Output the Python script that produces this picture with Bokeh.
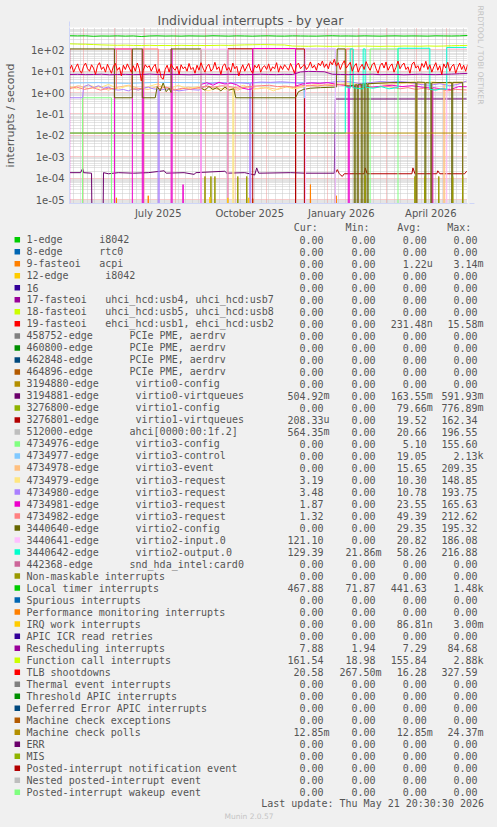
import re
import numpy as np
import pandas as pd
from bokeh.plotting import figure
from bokeh.models import (Range1d, FixedTicker, Grid, Arrow, NormalHead, LinearScale, Title,
                          CustomJSTickFormatter, DatetimeTickFormatter)
from bokeh.core.properties import value
from bokeh.embed import file_html
from bokeh.resources import INLINE

# ---------------------------------------------------------------- texts
TITLE = "Individual interrupts - by year"
Y_LABEL = "interrupts / second"
WATERMARK = "RRDTOOL / TOBI OETIKER"
LAST_UPDATE = "Last update: Thu May 21 20:30:30 2026"
FOOTER = "Munin 2.0.57"
HEADERS = ["Cur:", "Min:", "Avg:", "Max:"]

X_START = "2025-04-16 20:30:30"
X_END = "2026-05-21 20:30:30"
QUARTER_TICKS = ["2025-07-15", "2025-10-15", "2026-01-15", "2026-04-15"]
Y_DECADES = [1e-05, 1e-04, 1e-03, 1e-02, 1e-01, 1e+00, 1e+01, 1e+02]

legend_labels = [
    "1-edge      i8042",
    "8-edge      rtc0",
    "9-fasteoi   acpi",
    "12-edge      i8042",
    "16",
    "17-fasteoi   uhci_hcd:usb4, uhci_hcd:usb7",
    "18-fasteoi   uhci_hcd:usb5, uhci_hcd:usb8",
    "19-fasteoi   ehci_hcd:usb1, ehci_hcd:usb2",
    "458752-edge      PCIe PME, aerdrv",
    "460800-edge      PCIe PME, aerdrv",
    "462848-edge      PCIe PME, aerdrv",
    "464896-edge      PCIe PME, aerdrv",
    "3194880-edge      virtio0-config",
    "3194881-edge      virtio0-virtqueues",
    "3276800-edge      virtio1-config",
    "3276801-edge      virtio1-virtqueues",
    "512000-edge      ahci[0000:00:1f.2]",
    "4734976-edge      virtio3-config",
    "4734977-edge      virtio3-control",
    "4734978-edge      virtio3-event",
    "4734979-edge      virtio3-request",
    "4734980-edge      virtio3-request",
    "4734981-edge      virtio3-request",
    "4734982-edge      virtio3-request",
    "3440640-edge      virtio2-config",
    "3440641-edge      virtio2-input.0",
    "3440642-edge      virtio2-output.0",
    "442368-edge      snd_hda_intel:card0",
    "Non-maskable interrupts",
    "Local timer interrupts",
    "Spurious interrupts",
    "Performance monitoring interrupts",
    "IRQ work interrupts",
    "APIC ICR read retries",
    "Rescheduling interrupts",
    "Function call interrupts",
    "TLB shootdowns",
    "Thermal event interrupts",
    "Threshold APIC interrupts",
    "Deferred Error APIC interrupts",
    "Machine check exceptions",
    "Machine check polls",
    "ERR",
    "MIS",
    "Posted-interrupt notification event",
    "Nested posted-interrupt event",
    "Posted-interrupt wakeup event",
]

cur_vals = ["0.00", "0.00", "0.00", "0.00", "0.00", "0.00", "0.00", "0.00", "0.00", "0.00",
            "0.00", "0.00", "0.00", "504.92m", "0.00", "208.33u", "564.35m", "0.00", "0.00", "0.00",
            "3.19", "3.48", "1.87", "1.32", "0.00", "121.10", "129.39", "0.00", "0.00", "467.88",
            "0.00", "0.00", "0.00", "0.00", "7.88", "161.54", "20.58", "0.00", "0.00", "0.00",
            "0.00", "12.85m", "0.00", "0.00", "0.00", "0.00", "0.00"]
min_vals = ["0.00", "0.00", "0.00", "0.00", "0.00", "0.00", "0.00", "0.00", "0.00", "0.00",
            "0.00", "0.00", "0.00", "0.00", "0.00", "0.00", "0.00", "0.00", "0.00", "0.00",
            "0.00", "0.00", "0.00", "0.00", "0.00", "0.00", "21.86m", "0.00", "0.00", "71.87",
            "0.00", "0.00", "0.00", "0.00", "1.94", "18.98", "267.50m", "0.00", "0.00", "0.00",
            "0.00", "0.00", "0.00", "0.00", "0.00", "0.00", "0.00"]
avg_vals = ["0.00", "0.00", "1.22u", "0.00", "0.00", "0.00", "0.00", "231.48n", "0.00", "0.00",
            "0.00", "0.00", "0.00", "163.55m", "79.66m", "19.52", "20.66", "5.10", "19.05", "15.65",
            "10.30", "10.78", "23.55", "49.39", "29.35", "20.82", "58.26", "0.00", "0.00", "441.63",
            "0.00", "0.00", "86.81n", "0.00", "7.29", "155.84", "16.28", "0.00", "0.00", "0.00",
            "0.00", "12.85m", "0.00", "0.00", "0.00", "0.00", "0.00"]
max_vals = ["0.00", "0.00", "3.14m", "0.00", "0.00", "0.00", "0.00", "15.58m", "0.00", "0.00",
            "0.00", "0.00", "0.00", "591.93m", "776.89m", "162.34", "196.55", "155.60", "2.13k", "209.35",
            "148.85", "193.75", "165.63", "212.62", "195.32", "186.08", "216.88", "0.00", "0.00", "1.48k",
            "0.00", "0.00", "3.00m", "0.00", "84.68", "2.88k", "327.59", "0.00", "0.00", "0.00",
            "0.00", "24.37m", "0.00", "0.00", "0.00", "0.00", "0.00"]

# Munin default palette (cycled over the 47 fields)
PALETTE = ["#00CC00", "#0066B3", "#FF8000", "#FFCC00", "#330099", "#990099", "#CCFF00",
           "#FF0000", "#808080", "#008F00", "#00487D", "#B35A00", "#B38F00", "#6B006B",
           "#8FB300", "#B30000", "#BEBEBE", "#80FF80", "#80C9FF", "#FFC080", "#FFE680",
           "#AA80FF", "#EE00CC", "#FF8080", "#666600", "#FFBFFF", "#00FFCC", "#CC6699",
           "#999900"]

# ---------------------------------------------------------------- series
tlb_start, tlb_step = "2025-04-17", "2D"
tlb_vals = [12, 19, 9, 15, 22, 11, 8, 17, 24, 13, 10, 20, 14, 7, 18, 25, 12, 16, 9, 21,
            13, 8, 17, 23, 11, 15, 6, 19, 12, 22, 14, 9, 18, 10, 24, 13, 3.5, 11, 20, 15,
            18, 10, 16, 21, 8, 13, 5, 4.2, 12, 19, 9, 22, 14, 11, 17, 7, 20, 13, 16, 10,
            23, 12, 15, 8, 19, 11, 25, 14, 9, 17, 21, 10, 13, 26, 12, 16, 7, 18, 22, 11,
            15, 9, 24, 13, 17, 6, 12, 20, 10, 16, 23, 11, 8, 19, 14, 21, 9, 15, 18, 12,
            22, 10, 16, 13, 25, 9, 18, 12, 20, 15, 11, 23, 14, 8, 19, 24, 13, 17, 21, 12,
            16, 27, 14, 19, 11, 24, 18, 30, 15, 22, 13, 28, 20, 36, 17, 25, 12, 21, 31, 14,
            19, 26, 10, 17, 23, 9, 15, 21, 12, 28, 16, 11, 20, 25, 13, 8, 18, 24, 14, 27,
            11, 17, 22, 9, 15, 30, 13, 19, 24, 12, 16, 8, 21, 27, 14, 18, 10, 23, 15, 29,
            12, 20, 9, 16, 25, 11, 18, 7, 22, 14, 26, 10, 17, 21, 8, 15, 24, 12, 19, 10,
            20.6]

weekly_start, weekly_step = "2025-04-17", "8D"
local_timer_vals = [455, 448, 452, 430, 445, 440, 450, 438, 447, 420, 445, 452, 441, 446, 437, 449, 443,
                    440, 455, 446, 438, 450, 444, 436, 447, 452, 441, 438, 449, 445, 440, 437, 448, 455,
                    443, 446, 440, 451, 444, 437, 446, 450, 442, 448, 445, 439, 452, 447, 443, 450, 468]
func_call_vals = [190, 185, 182, 176, 170, 166, 163, 165, 161, 159, 162, 158, 160, 157, 162, 159, 161,
                  158, 160, 163, 161, 165, 170, 172, 175, 174, 170, 168, 150, 148, 146, 150, 147, 145,
                  149, 146, 148, 150, 147, 145, 148, 146, 150, 149, 147, 151, 148, 150, 155, 158, 161]
resched_vals = [7.0, 7.1, 6.9, 7.0, 7.2, 6.8, 7.0, 7.1, 6.9, 7.0, 7.3, 7.0, 6.9, 7.1, 7.0, 6.8, 7.0,
                7.2, 7.0, 6.9, 7.1, 7.0, 6.9, 7.0, 7.2, 7.0, 6.9, 7.1, 7.0, 9.2, 9.8, 9.6, 9.4, 7.2,
                7.0, 6.9, 7.1, 7.0, 7.2, 6.9, 7.0, 7.1, 6.8, 7.0, 7.2, 7.0, 6.9, 7.1, 7.3, 7.6, 7.9]

virtio0_vq = [("2025-04-16", 1.8e-4), ("2025-04-28", 1.8e-4), ("2025-04-30", 2.8e-4), ("2025-05-01", 1.8e-4),
              ("2025-05-09", 1.7e-4), ("2025-05-10", 0), ("2025-05-20", 0), ("2025-05-21", 1.8e-4),
              ("2025-05-26", 1.6e-4), ("2025-06-05", 1.8e-4), ("2025-06-20", 1.7e-4), ("2025-07-05", 1.8e-4),
              ("2025-07-21", 2.2e-4), ("2025-07-23", 1.7e-4), ("2025-08-10", 1.8e-4), ("2025-08-20", 1.5e-4),
              ("2025-08-22", 1.8e-4), ("2025-09-20", 2.1e-4), ("2025-09-22", 1.7e-4), ("2025-10-10", 1.8e-4),
              ("2025-10-20", 1.4e-4), ("2025-10-22", 3.0e-4), ("2025-10-24", 1.7e-4), ("2025-11-25", 1.8e-4),
              ("2025-12-10", 1.7e-4), ("2026-01-08", 1.7e-4), ("2026-01-09", 0.5), ("2026-05-21", 0.505)]
virtio1_vq = [("2025-04-16", 0), ("2025-09-23", 0), ("2025-09-23", 112), ("2025-10-18", 112),
              ("2025-10-18", 0), ("2025-11-30", 0), ("2025-11-30", 110), ("2025-12-09", 110),
              ("2025-12-09", 0), ("2026-01-09", 0), ("2026-01-09", 1.7e-4), ("2026-01-11", 2.5e-4),
              ("2026-01-13", 1.6e-4), ("2026-01-16", 1.2e-4), ("2026-01-18", 1.6e-4), ("2026-02-07", 1.6e-4),
              ("2026-02-08", 3.0e-4), ("2026-02-10", 1.6e-4), ("2026-03-27", 1.6e-4), ("2026-03-28", 3.0e-4),
              ("2026-03-30", 1.6e-4), ("2026-04-21", 1.6e-4), ("2026-04-22", 2.2e-4), ("2026-04-24", 1.6e-4),
              ("2026-05-19", 1.6e-4), ("2026-05-21", 2.1e-4)]
virtio3_config = [("2025-04-16", 0), ("2025-04-30", 0), ("2025-04-30", 0.57), ("2025-05-29", 0.57),
                  ("2025-05-29", 0), ("2026-02-13", 0), ("2026-02-13", 110), ("2026-03-13", 110),
                  ("2026-03-13", 0), ("2026-05-21", 0)]
virtio3_control = [("2025-04-16", 2.8), ("2025-05-16", 2.9), ("2025-06-15", 2.7), ("2025-07-15", 3.0),
                   ("2025-08-14", 2.9), ("2025-09-13", 2.8), ("2025-10-13", 2.9), ("2025-11-12", 2.8),
                   ("2025-12-08", 2.9), ("2025-12-09", 0.55), ("2025-12-10", 112), ("2026-01-09", 112),
                   ("2026-01-09", 0), ("2026-05-21", 0)]
virtio3_event = [("2025-04-16", 1.6), ("2025-04-26", 2.1), ("2025-05-06", 1.5), ("2025-05-16", 1.9),
                 ("2025-05-26", 1.3), ("2025-06-05", 1.8), ("2025-06-15", 2.2), ("2025-06-25", 1.6),
                 ("2025-07-05", 1.4), ("2025-07-15", 2.0), ("2025-07-25", 1.7), ("2025-08-04", 1.3),
                 ("2025-08-14", 1.8), ("2025-08-24", 1.5), ("2025-09-03", 2.0), ("2025-09-13", 1.4),
                 ("2025-09-23", 1.8), ("2025-10-03", 1.3), ("2025-10-13", 1.9), ("2025-10-23", 1.5),
                 ("2025-11-02", 1.7), ("2025-11-12", 1.4), ("2025-11-22", 1.9), ("2025-12-02", 1.6),
                 ("2025-12-12", 2.0), ("2025-12-22", 2.3), ("2026-01-01", 2.1), ("2026-01-11", 2.4),
                 ("2026-01-21", 2.6), ("2026-01-31", 2.3), ("2026-02-10", 2.5), ("2026-02-20", 2.7),
                 ("2026-03-02", 2.4), ("2026-03-12", 2.6), ("2026-03-22", 2.8), ("2026-03-31", 2.5),
                 ("2026-03-31", 0), ("2026-04-01", 0), ("2026-04-01", 2.6), ("2026-04-11", 2.9),
                 ("2026-04-21", 2.7), ("2026-04-28", 2.8), ("2026-04-28", 0), ("2026-04-29", 0),
                 ("2026-04-29", 2.5), ("2026-05-09", 2.8), ("2026-05-17", 2.6), ("2026-05-17", 0),
                 ("2026-05-21", 0)]
virtio3_req79 = [("2025-04-16", 2.0), ("2025-04-26", 1.4), ("2025-05-06", 2.3), ("2025-05-16", 1.6),
                 ("2025-05-26", 2.4), ("2025-06-05", 1.5), ("2025-06-15", 2.1), ("2025-06-25", 1.3),
                 ("2025-07-05", 1.9), ("2025-07-15", 2.6), ("2025-07-25", 1.4), ("2025-08-04", 2.2),
                 ("2025-08-14", 1.5), ("2025-08-24", 1.9), ("2025-09-03", 1.2), ("2025-09-13", 1.7),
                 ("2025-09-23", 1.3), ("2025-09-28", 1.5), ("2025-09-28", 0), ("2025-09-29", 0),
                 ("2025-09-29", 1.6), ("2025-10-09", 2.2), ("2025-10-19", 1.4), ("2025-10-29", 1.8),
                 ("2025-11-08", 1.2), ("2025-11-18", 2.0), ("2025-11-28", 1.5), ("2025-12-08", 1.9),
                 ("2025-12-18", 2.3), ("2025-12-28", 2.1), ("2026-01-07", 2.6), ("2026-01-17", 2.4),
                 ("2026-01-27", 2.8), ("2026-02-06", 2.5), ("2026-02-16", 2.9), ("2026-02-26", 2.7),
                 ("2026-03-08", 3.0), ("2026-03-18", 2.8), ("2026-03-28", 3.1), ("2026-04-07", 2.9),
                 ("2026-04-17", 3.2), ("2026-04-27", 2.7), ("2026-05-07", 3.0), ("2026-05-21", 3.19)]
virtio3_req80 = [("2025-04-16", 0.57), ("2025-04-30", 0.57), ("2025-05-01", 1.9), ("2025-05-06", 2.3),
                 ("2025-05-11", 1.7), ("2025-05-16", 2.1), ("2025-05-21", 1.6), ("2025-05-26", 1.8),
                 ("2025-05-31", 1.4), ("2025-06-05", 1.3), ("2025-06-10", 1.4), ("2025-06-15", 1.2),
                 ("2025-06-20", 1.5), ("2025-06-25", 1.3), ("2025-06-30", 1.6), ("2025-07-05", 1.8),
                 ("2025-07-10", 1.5), ("2025-07-15", 1.4), ("2025-07-15", 0), ("2025-07-16", 0),
                 ("2025-07-16", 1.3), ("2025-07-25", 1.5), ("2025-08-05", 1.2), ("2025-08-15", 1.4),
                 ("2025-08-25", 1.3), ("2025-09-04", 2.6), ("2025-09-14", 3.0), ("2025-09-24", 2.7),
                 ("2025-10-04", 2.9), ("2025-10-15", 2.6), ("2025-10-15", 0), ("2025-10-16", 0),
                 ("2025-10-16", 2.8), ("2025-10-26", 3.1), ("2025-11-05", 3.0), ("2025-11-15", 3.2),
                 ("2025-11-25", 3.0), ("2025-12-05", 2.7), ("2025-12-15", 2.9), ("2025-12-25", 2.8),
                 ("2026-01-04", 3.0), ("2026-01-14", 3.4), ("2026-01-24", 3.2), ("2026-02-03", 2.6),
                 ("2026-02-13", 2.9), ("2026-02-23", 3.3), ("2026-03-05", 3.1), ("2026-03-15", 3.3),
                 ("2026-03-25", 3.0), ("2026-04-04", 2.4), ("2026-04-14", 2.2), ("2026-04-24", 2.6),
                 ("2026-05-04", 2.1), ("2026-05-12", 2.4), ("2026-05-21", 3.48)]
virtio3_req81 = [("2025-04-16", 110), ("2025-04-17", 110), ("2025-04-17", 0), ("2025-06-01", 0),
                 ("2025-06-01", 110), ("2025-06-19", 110), ("2025-06-19", 0), ("2025-06-29", 0),
                 ("2025-06-29", 110), ("2025-06-30", 110), ("2025-06-30", 0), ("2025-07-28", 0),
                 ("2025-07-28", 110), ("2025-07-29", 110), ("2025-07-29", 0), ("2025-08-08", 0),
                 ("2025-08-09", 5e-5), ("2025-08-10", 0), ("2025-08-27", 0), ("2025-08-27", 2.4),
                 ("2025-09-02", 2.9), ("2025-09-08", 2.2), ("2025-09-14", 3.0), ("2025-09-20", 2.5),
                 ("2025-09-26", 2.8), ("2025-10-02", 2.3), ("2025-10-08", 1.6), ("2025-10-14", 1.4),
                 ("2025-10-18", 1.5), ("2025-10-18", 115), ("2025-11-30", 115), ("2025-11-30", 2.0),
                 ("2025-12-08", 2.6), ("2025-12-16", 2.8), ("2025-12-24", 2.7), ("2026-01-01", 2.9),
                 ("2026-01-09", 2.5), ("2026-01-17", 2.2), ("2026-01-22", 2.0), ("2026-01-22", 0),
                 ("2026-01-23", 0), ("2026-01-23", 1.9), ("2026-02-05", 2.1), ("2026-02-15", 1.8),
                 ("2026-02-25", 2.0), ("2026-03-07", 2.2), ("2026-03-17", 1.9), ("2026-03-27", 2.1),
                 ("2026-04-06", 1.8), ("2026-04-16", 1.6), ("2026-04-16", 0), ("2026-04-17", 0),
                 ("2026-04-17", 1.7), ("2026-04-25", 1.5), ("2026-05-05", 1.4), ("2026-05-13", 1.9),
                 ("2026-05-21", 1.87)]
virtio3_req82 = [("2025-04-16", 1.5), ("2025-04-24", 1.8), ("2025-05-02", 1.4), ("2025-05-10", 1.7),
                 ("2025-05-18", 1.3), ("2025-05-26", 1.6), ("2025-06-03", 1.5), ("2025-06-03", 110),
                 ("2025-06-18", 110), ("2025-06-18", 1.4), ("2025-06-30", 1.6), ("2025-06-30", 110),
                 ("2025-07-15", 110), ("2025-07-15", 1.5), ("2025-07-23", 1.8), ("2025-07-31", 1.3),
                 ("2025-08-08", 1.6), ("2025-08-16", 1.4), ("2025-08-24", 1.7), ("2025-09-01", 2.0),
                 ("2025-09-09", 1.8), ("2025-09-17", 2.1), ("2025-09-25", 1.9), ("2025-10-03", 1.6),
                 ("2025-10-11", 1.8), ("2025-10-19", 2.0), ("2025-10-27", 2.1), ("2025-11-04", 2.2),
                 ("2025-11-12", 1.9), ("2025-11-20", 2.0), ("2025-11-28", 1.8), ("2025-12-06", 2.1),
                 ("2025-12-14", 2.2), ("2025-12-22", 2.0), ("2025-12-30", 2.3), ("2026-01-07", 2.1),
                 ("2026-01-15", 2.4), ("2026-01-20", 2.2), ("2026-01-20", 110), ("2026-01-26", 110),
                 ("2026-01-26", 1.8), ("2026-02-03", 1.6), ("2026-02-11", 1.9), ("2026-02-19", 1.7),
                 ("2026-02-27", 2.0), ("2026-03-07", 1.8), ("2026-03-15", 1.5), ("2026-03-23", 1.7),
                 ("2026-03-31", 1.4), ("2026-04-08", 1.6), ("2026-04-16", 1.3), ("2026-04-24", 1.5),
                 ("2026-05-02", 1.2), ("2026-05-10", 1.4), ("2026-05-21", 1.32)]
virtio2_config = [("2025-04-16", 0.57), ("2025-04-17", 0.57), ("2025-04-17", 110), ("2025-06-01", 110),
                  ("2025-06-01", 0.57), ("2025-06-19", 0.57), ("2025-06-19", 110), ("2025-06-29", 110),
                  ("2025-06-29", 0.57), ("2025-07-12", 0.57), ("2025-07-14", 1.9), ("2025-07-17", 1.2),
                  ("2025-07-20", 2.8), ("2025-07-23", 1.1), ("2025-07-26", 1.6), ("2025-07-28", 1.0),
                  ("2025-07-28", 110), ("2025-08-27", 110), ("2025-08-27", 1.6), ("2025-08-31", 1.3),
                  ("2025-09-04", 1.9), ("2025-09-08", 1.4), ("2025-09-12", 1.7), ("2025-09-16", 1.2),
                  ("2025-09-20", 1.8), ("2025-09-24", 1.3), ("2025-09-29", 1.5), ("2025-10-01", 0.57),
                  ("2025-11-30", 0.57), ("2025-12-03", 1.1), ("2025-12-08", 1.4), ("2025-12-15", 1.6),
                  ("2025-12-25", 1.7), ("2026-01-10", 1.8), ("2026-01-11", 110), ("2026-01-19", 110),
                  ("2026-01-19", 2.0), ("2026-01-28", 2.2), ("2026-01-28", 0), ("2026-01-29", 0),
                  ("2026-01-29", 2.3), ("2026-01-31", 2.3), ("2026-01-31", 0), ("2026-02-01", 0),
                  ("2026-02-01", 2.4), ("2026-02-04", 2.5), ("2026-02-04", 0), ("2026-02-05", 0),
                  ("2026-02-05", 2.5), ("2026-02-07", 2.6), ("2026-02-07", 0), ("2026-02-08", 0),
                  ("2026-02-08", 2.6), ("2026-02-10", 2.6), ("2026-02-10", 0), ("2026-02-11", 0),
                  ("2026-02-11", 2.6), ("2026-03-05", 2.9), ("2026-03-31", 3.0), ("2026-03-31", 0),
                  ("2026-04-01", 0), ("2026-04-01", 3.1), ("2026-04-09", 3.0), ("2026-04-09", 0),
                  ("2026-04-10", 0), ("2026-04-10", 2.9), ("2026-04-15", 2.8), ("2026-04-15", 0),
                  ("2026-04-16", 0), ("2026-04-16", 2.9), ("2026-05-06", 3.0), ("2026-05-06", 0),
                  ("2026-05-07", 0), ("2026-05-07", 3.0), ("2026-05-17", 3.0), ("2026-05-17", 0),
                  ("2026-05-21", 0)]
virtio2_input = [("2025-04-16", 0), ("2025-08-27", 0), ("2025-08-27", 108), ("2025-09-23", 108),
                 ("2025-09-23", 0), ("2025-12-10", 0), ("2025-12-10", 112), ("2026-01-09", 112),
                 ("2026-01-09", 0), ("2026-05-01", 0), ("2026-05-01", 121), ("2026-05-21", 121.1)]
virtio2_output = [("2025-04-16", 0.0128), ("2026-01-19", 0.0128), ("2026-01-19", 1.9), ("2026-01-24", 1.6),
                  ("2026-01-24", 110), ("2026-01-27", 110), ("2026-01-27", 1.7), ("2026-02-04", 1.5),
                  ("2026-02-06", 1.5), ("2026-02-06", 110), ("2026-02-08", 110), ("2026-02-08", 1.8),
                  ("2026-02-16", 1.6), ("2026-02-24", 1.9), ("2026-03-04", 1.5), ("2026-03-12", 1.7),
                  ("2026-03-13", 1.6), ("2026-03-13", 118), ("2026-04-14", 118), ("2026-04-14", 1.4),
                  ("2026-04-20", 1.3), ("2026-04-26", 1.5), ("2026-05-01", 1.4), ("2026-05-01", 129),
                  ("2026-05-21", 129.4)]
acpi_spikes = [("2025-06-02", 0), ("2025-06-03", 1.2e-5), ("2025-06-04", 0), ("2025-07-04", 0),
               ("2025-07-05", 1.5e-5), ("2025-07-06", 0), ("2025-10-17", 0), ("2025-10-18", 1.1e-5),
               ("2025-10-19", 0), ("2025-12-14", 0), ("2025-12-15", 5e-5), ("2025-12-16", 0),
               ("2026-01-09", 0), ("2026-01-10", 1.5e-5), ("2026-01-11", 0)]
nmi_spikes = [("2025-08-30", 0), ("2025-08-31", 1.2e-4), ("2025-09-01", 0), ("2025-09-05", 0),
              ("2025-09-06", 1.2e-4), ("2025-09-07", 0), ("2025-09-09", 0), ("2025-09-10", 1.2e-4),
              ("2025-09-11", 0), ("2025-10-02", 0), ("2025-10-03", 1.2e-4), ("2025-10-04", 0),
              ("2025-10-11", 0), ("2025-10-12", 1.2e-4), ("2025-10-13", 0), ("2026-02-07", 0),
              ("2026-02-08", 1.3e-4), ("2026-02-09", 0), ("2026-03-29", 0), ("2026-03-30", 1.2e-4),
              ("2026-03-31", 0), ("2026-04-08", 0), ("2026-04-09", 1.2e-4), ("2026-04-10", 0),
              ("2026-04-22", 0), ("2026-04-23", 1.2e-4), ("2026-04-24", 0), ("2026-05-06", 0),
              ("2026-05-07", 1.2e-4), ("2026-05-08", 0), ("2026-05-16", 0), ("2026-05-17", 1.2e-4),
              ("2026-05-18", 0)]
irq_work_spikes = [("2025-09-04", 0), ("2025-09-05", 1.3e-5), ("2025-09-06", 0), ("2025-09-22", 0),
                   ("2025-09-23", 1.2e-5), ("2025-09-24", 0), ("2025-10-13", 0), ("2025-10-14", 1.2e-5),
                   ("2025-10-15", 0)]
mc_polls = [("2025-04-16", 0.0128), ("2026-05-21", 0.0128)]

# ---------------------------------------------------------------- helpers
ZERO_FLOOR = 1e-9  # zero values are drawn off the bottom of the log axis


def ms(s):
    return pd.Timestamp(s).value / 1e6


def from_pairs(pairs):
    d = pd.to_datetime([p[0] for p in pairs])
    v = np.array([p[1] for p in pairs], dtype=float)
    return d, np.where(v <= 0, ZERO_FLOOR, v)


def from_regular(start, step, vals):
    d = pd.date_range(start, periods=len(vals), freq=step)
    return d, np.array(vals, dtype=float)


colors = [PALETTE[i % len(PALETTE)] for i in range(len(legend_labels))]

TXT = "#555555"
AXIS_C = "#CFD6F8"
MGRID = "#F09898"
GRID = "#C8C8C8"

# ---------------------------------------------------------------- plot
W = 497
TOP_H = 222
L, R, T, B = 67, 467, 27, 203

p = figure(width=W, height=TOP_H, x_axis_type="datetime", y_axis_type="log",
           x_range=Range1d(ms(X_START), ms(X_END)),
           y_range=Range1d(10 ** -5.187, 10 ** 3.043),
           toolbar_location=None, output_backend="svg", title=None,
           min_border_left=L, min_border_right=W - R, min_border_top=T,
           min_border_bottom=TOP_H - B)
p.background_fill_color = "#FFFFFF"
p.border_fill_color = "#F0F0F0"
p.outline_line_color = None
p.extra_x_ranges = {"px": Range1d(L, R)}
p.extra_y_ranges = {"py": Range1d(B, T)}
p.extra_x_scales = {"px": LinearScale()}
p.extra_y_scales = {"py": LinearScale()}

# titles: main title above, rrdtool watermark on the right (reads top to bottom)
p.add_layout(Title(text=TITLE, align="left", offset=88, standoff=0,
                   text_font="DejaVu Sans", text_font_style="normal",
                   text_font_size="12.5px", text_color=TXT), "above")
p.add_layout(Title(text=WATERMARK, align="left", offset=-22, standoff=16,
                   text_font="DejaVu Sans", text_font_style="normal",
                   text_font_size="7.7px", text_color="#C4C4C4"), "right")

# y axis
minor_y = [m * 10.0 ** k for k in range(-6, 4) for m in range(2, 10)]
p.yaxis.ticker = FixedTicker(ticks=Y_DECADES, minor_ticks=minor_y)
p.yaxis.formatter = CustomJSTickFormatter(code="""
const e = Math.round(Math.log10(tick));
const a = Math.abs(e);
return "1e" + (e < 0 ? "-" : "+") + (a < 10 ? "0" : "") + a;
""")
p.yaxis.axis_label = Y_LABEL
p.yaxis.axis_label_text_font = "DejaVu Sans"
p.yaxis.axis_label_text_font_style = "normal"
p.yaxis.axis_label_text_font_size = "11px"
p.yaxis.axis_label_text_color = TXT
p.yaxis.axis_label_standoff = 11
p.yaxis.major_label_standoff = 5

# x axis
p.xaxis.ticker = FixedTicker(ticks=[ms(t) for t in QUARTER_TICKS])
p.xaxis.formatter = DatetimeTickFormatter(months="%B %Y", days="%B %Y", years="%B %Y",
                                          hours="%B %Y", hourmin="%B %Y", boundary_scaling=False)
p.xaxis.major_label_standoff = 4

for ax in (p.xaxis, p.yaxis):
    ax.axis_line_color = AXIS_C
    ax.major_tick_in = 0
    ax.major_tick_out = 0
    ax.minor_tick_in = 0
    ax.minor_tick_out = 0
    ax.major_label_text_font = "DejaVu Sans"
    ax.major_label_text_font_size = "10px"
    ax.major_label_text_color = TXT

# grids
p.ygrid.grid_line_color = MGRID
p.ygrid.grid_line_dash = "1 1"
p.ygrid.minor_grid_line_color = GRID
p.ygrid.minor_grid_line_dash = "1 1"
p.xgrid.visible = False
months = [ms(d) for d in pd.date_range("2025-05-01", "2026-05-01", freq="MS")]
weeks = [ms(d) for d in pd.date_range("2025-04-21", "2026-05-18", freq="7D")]
p.add_layout(Grid(dimension=0, ticker=FixedTicker(ticks=months, minor_ticks=weeks),
                  grid_line_color=MGRID, grid_line_dash="1 1",
                  minor_grid_line_color=GRID, minor_grid_line_dash="1 1"))

# series, in legend order
series = [
    (2, from_pairs(acpi_spikes)),
    (13, from_pairs(virtio0_vq)),
    (15, from_pairs(virtio1_vq)),
    (17, from_pairs(virtio3_config)),
    (18, from_pairs(virtio3_control)),
    (19, from_pairs(virtio3_event)),
    (20, from_pairs(virtio3_req79)),
    (21, from_pairs(virtio3_req80)),
    (22, from_pairs(virtio3_req81)),
    (23, from_pairs(virtio3_req82)),
    (24, from_pairs(virtio2_config)),
    (25, from_pairs(virtio2_input)),
    (26, from_pairs(virtio2_output)),
    (28, from_pairs(nmi_spikes)),
    (29, from_regular(weekly_start, weekly_step, local_timer_vals)),
    (32, from_pairs(irq_work_spikes)),
    (34, from_regular(weekly_start, weekly_step, resched_vals)),
    (35, from_regular(weekly_start, weekly_step, func_call_vals)),
    (36, from_regular(tlb_start, tlb_step, tlb_vals)),
    (41, from_pairs(mc_polls)),
]
for idx, (d, v) in series:
    p.line(x=d, y=v, line_color=colors[idx], line_width=1)

# axis arrows
head = dict(size=5, fill_color=AXIS_C, line_color=AXIS_C)
p.add_layout(Arrow(end=NormalHead(**head), x_start=R, y_start=B, x_end=R + 7, y_end=B,
                   x_range_name="px", y_range_name="py", line_color=AXIS_C))
p.add_layout(Arrow(end=NormalHead(**head), x_start=L, y_start=T, x_end=L, y_end=T - 6,
                   x_range_name="px", y_range_name="py", line_color=AXIS_C))

# ---------------------------------------------------------------- legend (own figure, pixel ranges)
LEG_H = 827 - TOP_H
q = figure(width=W, height=LEG_H, x_range=Range1d(0, W), y_range=Range1d(827, TOP_H),
           x_axis_location=None, y_axis_location=None, toolbar_location=None,
           output_backend="svg", title=None, min_border=0)
q.grid.visible = False
q.outline_line_color = None
q.background_fill_color = "#F0F0F0"
q.border_fill_color = "#F0F0F0"

CH = 6.06
TEXT_X = 26
ROW0, ROW_H = 239.3, 12.01
rows_y = [ROW0 + i * ROW_H for i in range(len(legend_labels))]

mono = dict(text_font=value("DejaVu Sans Mono"), text_font_size="10px",
            text_baseline="middle", text_color=TXT)

q.rect(x=[16.8] * len(rows_y), y=rows_y, width=5.5, height=5.5,
       fill_color=colors, line_color=None)

lx, ly, lt = [], [], []
for y, lab in zip(rows_y, legend_labels):
    m = re.search(r" {2,}", lab)
    if m:
        lx += [TEXT_X, TEXT_X + m.end() * CH]
        ly += [y, y]
        lt += [lab[:m.start()], lab[m.end():]]
    else:
        lx.append(TEXT_X)
        ly.append(y)
        lt.append(lab)
q.text(x=lx, y=ly, text=lt, text_align="left", **mono)

COL_END = [323.0, 375.0, 426.3, 477.0]
HEAD_X = [293.3, 345.0, 396.7, 446.7]
q.text(x=HEAD_X, y=[227.3] * 4, text=HEADERS, text_align="left", **mono)
for col, vals in enumerate([cur_vals, min_vals, avg_vals, max_vals]):
    parts = [re.match(r"([0-9.]+)([a-zA-Z]?)", s) for s in vals]
    q.text(x=[COL_END[col]] * len(vals), y=rows_y, text=[m.group(1) for m in parts],
           text_align="right", **mono)
    sy = [y for y, m in zip(rows_y, parts) if m.group(2)]
    st = [m.group(2) for m in parts if m.group(2)]
    if st:
        q.text(x=[COL_END[col]] * len(st), y=sy, text=st, text_align="left", **mono)

q.text(x=[483.5], y=[803.3], text=[LAST_UPDATE], text_align="right", **mono)
q.text(x=[248.5], y=[815.7], text=[FOOTER], text_align="center", text_baseline="middle",
       text_font=value("DejaVu Sans"), text_font_size="7.5px", text_color="#C4C4C4")

# two independent roots stacked on the page (no frame alignment between them)
html = file_html([p, q], INLINE, title=TITLE)
html = html.replace("</head>",
                    "<style>html,body{margin:0;padding:0;background:#F0F0F0;overflow:hidden;"
                    "line-height:0}</style></head>", 1)
open("out.html", "w").write(html)
